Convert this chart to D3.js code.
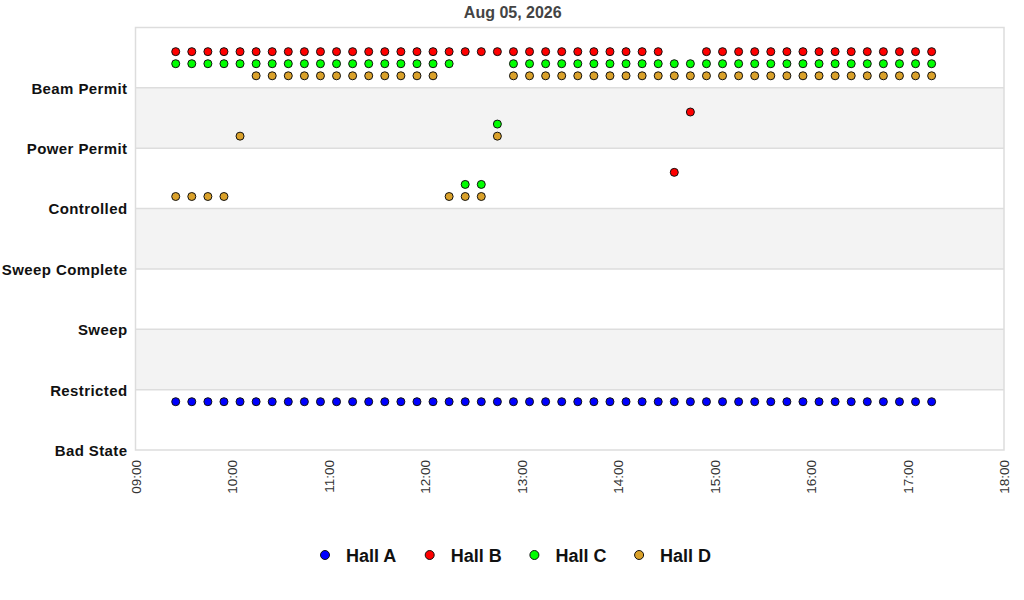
<!DOCTYPE html>
<html>
<head>
<meta charset="utf-8">
<script src="https://cdn.jsdelivr.net/npm/d3@7"></script>
<style>
  body { margin: 0; background: #fff; }
  svg { font-family: "Liberation Sans", Arial, sans-serif; }
</style>
</head>
<body>
<svg id="chart"></svg>
<script>
// state names, bottom to top
const states = ["Bad State", "Restricted", "Sweep", "Sweep Complete", "Controlled", "Power Permit", "Beam Permit"];

// sample times (every 10 minutes)
const times = [
  "09:25", "09:35", "09:45", "09:55", "10:05", "10:15", "10:25", "10:35", "10:45", "10:55",
  "11:05", "11:15", "11:25", "11:35", "11:45", "11:55", "12:05", "12:15", "12:25", "12:35",
  "12:45", "12:55", "13:05", "13:15", "13:25", "13:35", "13:45", "13:55", "14:05", "14:15",
  "14:25", "14:35", "14:45", "14:55", "15:05", "15:15", "15:25", "15:35", "15:45", "15:55",
  "16:05", "16:15", "16:25", "16:35", "16:45", "16:55", "17:05", "17:15"
];

const halls = ["Hall A", "Hall B", "Hall C", "Hall D"];
const hallColors = ["#0000ff", "#ff0000", "#00ff00", "#daa12a"];

const hallA = [
  0.8, 0.8, 0.8, 0.8, 0.8, 0.8, 0.8, 0.8, 0.8, 0.8,
  0.8, 0.8, 0.8, 0.8, 0.8, 0.8, 0.8, 0.8, 0.8, 0.8,
  0.8, 0.8, 0.8, 0.8, 0.8, 0.8, 0.8, 0.8, 0.8, 0.8,
  0.8, 0.8, 0.8, 0.8, 0.8, 0.8, 0.8, 0.8, 0.8, 0.8,
  0.8, 0.8, 0.8, 0.8, 0.8, 0.8, 0.8, 0.8
];
const hallB = [
  6.6, 6.6, 6.6, 6.6, 6.6, 6.6, 6.6, 6.6, 6.6, 6.6,
  6.6, 6.6, 6.6, 6.6, 6.6, 6.6, 6.6, 6.6, 6.6, 6.6,
  6.6, 6.6, 6.6, 6.6, 6.6, 6.6, 6.6, 6.6, 6.6, 6.6,
  6.6, 4.6, 5.6, 6.6, 6.6, 6.6, 6.6, 6.6, 6.6, 6.6,
  6.6, 6.6, 6.6, 6.6, 6.6, 6.6, 6.6, 6.6
];
const hallC = [
  6.4, 6.4, 6.4, 6.4, 6.4, 6.4, 6.4, 6.4, 6.4, 6.4,
  6.4, 6.4, 6.4, 6.4, 6.4, 6.4, 6.4, 6.4, 4.4, 4.4,
  5.4, 6.4, 6.4, 6.4, 6.4, 6.4, 6.4, 6.4, 6.4, 6.4,
  6.4, 6.4, 6.4, 6.4, 6.4, 6.4, 6.4, 6.4, 6.4, 6.4,
  6.4, 6.4, 6.4, 6.4, 6.4, 6.4, 6.4, 6.4
];
const hallD = [
  4.2, 4.2, 4.2, 4.2, 5.2, 6.2, 6.2, 6.2, 6.2, 6.2,
  6.2, 6.2, 6.2, 6.2, 6.2, 6.2, 6.2, 4.2, 4.2, 4.2,
  5.2, 6.2, 6.2, 6.2, 6.2, 6.2, 6.2, 6.2, 6.2, 6.2,
  6.2, 6.2, 6.2, 6.2, 6.2, 6.2, 6.2, 6.2, 6.2, 6.2,
  6.2, 6.2, 6.2, 6.2, 6.2, 6.2, 6.2, 6.2
];
const hallValues = [hallA, hallB, hallC, hallD];

const dayLabel = "Aug 05, 2026";
const xStart = "09:00", xEnd = "18:00";

const width = 1024, height = 600;
const margin = { top: 27.5, right: 20, bottom: 150, left: 135.5 };

const svg = d3.select("#chart")
  .attr("width", width)
  .attr("height", height);

const parseTime = t => {
  const [h, m] = t.split(":").map(Number);
  return new Date(2026, 7, 5, h, m);
};

const x = d3.scaleTime()
  .domain([parseTime(xStart), parseTime(xEnd)])
  .range([margin.left, width - margin.right]);

const y = d3.scaleLinear()
  .domain([0, states.length])
  .range([height - margin.bottom, margin.top]);

// alternating bands
svg.append("g")
  .selectAll("rect")
  .data(d3.range(0, states.length).filter(i => i % 2 === 1))
  .enter()
  .append("rect")
  .attr("x", x.range()[0])
  .attr("width", x.range()[1] - x.range()[0])
  .attr("y", d => y(d + 1))
  .attr("height", d => y(d) - y(d + 1))
  .attr("fill", "#f3f3f3");

// horizontal grid lines
svg.append("g")
  .selectAll("line")
  .data(d3.range(1, states.length))
  .enter()
  .append("line")
  .attr("x1", x.range()[0])
  .attr("x2", x.range()[1])
  .attr("y1", d => y(d))
  .attr("y2", d => y(d))
  .attr("stroke", "#dddddd")
  .attr("stroke-width", 1.5);

// plot border
svg.append("rect")
  .attr("x", x.range()[0])
  .attr("y", y.range()[1])
  .attr("width", x.range()[1] - x.range()[0])
  .attr("height", y.range()[0] - y.range()[1])
  .attr("fill", "none")
  .attr("stroke", "#dddddd")
  .attr("stroke-width", 1.5);

// y labels
const yAxis = d3.axisLeft(y)
  .tickValues(d3.range(0, states.length))
  .tickFormat(i => states[i])
  .tickSize(0)
  .tickPadding(8);

svg.append("g")
  .attr("transform", `translate(${x.range()[0]},0)`)
  .call(yAxis)
  .call(g => g.select(".domain").remove())
  .selectAll("text")
  .attr("font-family", "Liberation Sans, Arial, sans-serif")
  .attr("font-size", 15)
  .attr("letter-spacing", 0.4)
  .attr("font-weight", "bold")
  .attr("fill", "#111")
  .attr("dy", "0.36em");

// x labels
const xAxis = d3.axisBottom(x)
  .ticks(d3.timeHour.every(1))
  .tickFormat(d3.timeFormat("%H:%M"))
  .tickSize(0)
  .tickPadding(0);

svg.append("g")
  .attr("transform", `translate(0,${y.range()[0]})`)
  .call(xAxis)
  .call(g => g.select(".domain").remove())
  .selectAll("text")
  .attr("font-family", "Liberation Sans, Arial, sans-serif")
  .attr("font-size", 13.5)
  .attr("fill", "#333")
  .attr("text-anchor", "end")
  .attr("transform", "translate(0,10) rotate(-90)")
  .attr("x", 0)
  .attr("y", 0)
  .attr("dy", "0.35em");

// points
halls.forEach((hall, h) => {
  svg.append("g")
    .selectAll("circle")
    .data(hallValues[h].map((v, i) => ({ t: parseTime(times[i]), v: v })))
    .enter()
    .append("circle")
    .attr("cx", d => x(d.t))
    .attr("cy", d => y(d.v))
    .attr("r", 4)
    .attr("fill", hallColors[h])
    .attr("stroke", "#111")
    .attr("stroke-width", 1);
});

// title
svg.append("text")
  .attr("x", (x.range()[0] + x.range()[1]) / 2 - 57)
  .attr("y", 18)
  .attr("text-anchor", "middle")
  .attr("font-size", 16)
  .attr("font-weight", "bold")
  .attr("fill", "#444")
  .text(dayLabel);

// legend
const legend = svg.append("g")
  .attr("transform", "translate(325,555)");

const item = legend.selectAll("g")
  .data(halls)
  .enter()
  .append("g")
  .attr("transform", (d, i) => `translate(${i * 104.7},0)`);

item.append("circle")
  .attr("r", 4.5)
  .attr("fill", (d, i) => hallColors[i])
  .attr("stroke", "#111")
  .attr("stroke-width", 1);

item.append("text")
  .attr("x", 21)
  .attr("y", 6.5)
  .attr("font-size", 18)
  .attr("font-weight", "bold")
  .attr("fill", "#111")
  .text(d => d);
</script>
</body>
</html>
